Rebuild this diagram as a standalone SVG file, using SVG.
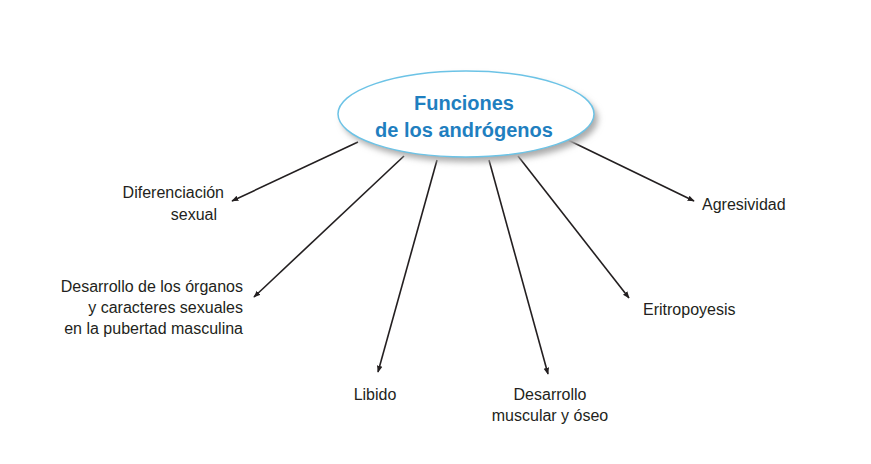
<svg xmlns="http://www.w3.org/2000/svg" width="871" height="464" viewBox="0 0 871 464">
<style>
text{font-family:"Liberation Sans",Arial,sans-serif;font-size:16px;fill:#231f20}
.t{font-size:20px;font-weight:bold;fill:#1f7fc0;text-anchor:middle}
.c line{stroke:#231f20;stroke-width:1.6;marker-end:url(#a)}
</style>
<defs>
<marker id="a" viewBox="0 0 10 10" refX="9" refY="5" markerWidth="7" markerHeight="7" orient="auto" markerUnits="userSpaceOnUse"><path d="M0,1 L10,5 L0,9 Z" fill="#231f20"/></marker>
<filter id="s" x="-20%" y="-20%" width="140%" height="150%"><feGaussianBlur stdDeviation="3"/></filter>
</defs>
<rect width="871" height="464" fill="#fff"/>
<g class="c">
<line x1="358" y1="142" x2="232" y2="201"/>
<line x1="404" y1="156" x2="254" y2="297"/>
<line x1="437" y1="160" x2="378" y2="372"/>
<line x1="489" y1="160" x2="548" y2="374"/>
<line x1="518" y1="156" x2="629" y2="298"/>
<line x1="568" y1="140" x2="694" y2="201"/>
</g>
<g id="center">
<ellipse cx="470" cy="119" rx="128" ry="43" fill="#aaa" filter="url(#s)"/>
<ellipse cx="466" cy="114" rx="128" ry="43" fill="#fff" stroke="#6cc3e6" stroke-width="1.5"/>
<text class="t" x="464" y="110">Funciones</text>
<text class="t" x="464" y="137">de los andrógenos</text>
</g>
<g id="n1" text-anchor="end"><text x="224" y="198">Diferenciación</text><text x="217" y="220">sexual</text></g>
<g id="n2" text-anchor="end"><text x="243" y="292">Desarrollo de los órganos</text><text x="243" y="313">y caracteres sexuales</text><text x="243" y="334">en la pubertad masculina</text></g>
<g id="n3" text-anchor="middle"><text x="375" y="400">Libido</text></g>
<g id="n4" text-anchor="middle"><text x="550" y="400">Desarrollo</text><text x="550" y="421">muscular y óseo</text></g>
<g id="n5"><text x="643" y="315">Eritropoyesis</text></g>
<g id="n6"><text x="702" y="210">Agresividad</text></g>
</svg>
